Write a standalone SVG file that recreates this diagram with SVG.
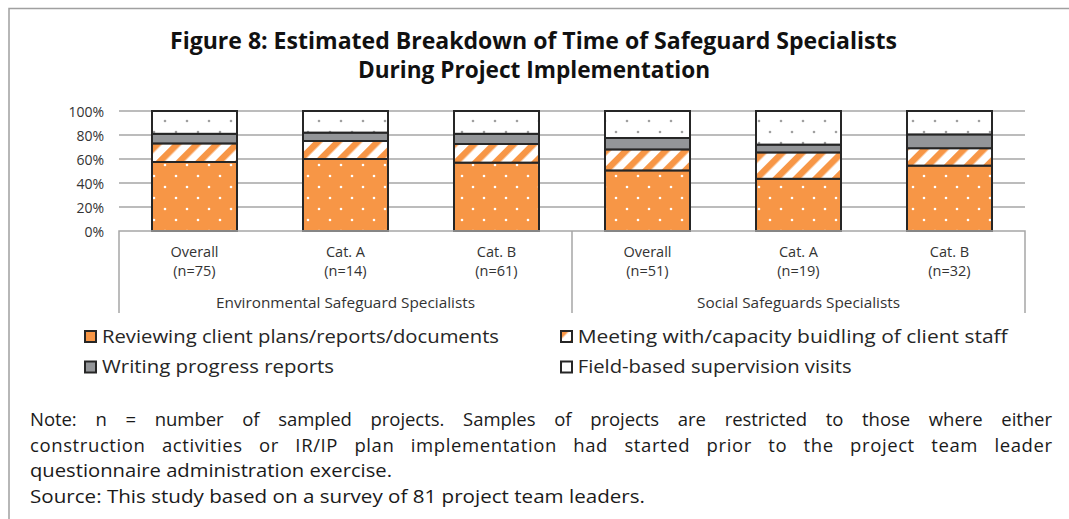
<svg xmlns="http://www.w3.org/2000/svg" width="1069" height="519" viewBox="0 0 1069 519">
<defs>
<style>
.t{font-family:"Open Sans","Noto Sans","DejaVu Sans",sans-serif;fill:#262626}
.ax{font-size:14px;text-anchor:end;fill:#333}
.cat{font-size:14.5px;text-anchor:middle;fill:#333}
.grp{font-size:14px;text-anchor:middle;fill:#333}
.leg{font-size:19px}
.note{font-size:18.5px;fill:#1a1a1a}
.title{font-size:23px;font-weight:700;text-anchor:middle;fill:#111}
.grid{stroke:#a6a6a6;stroke-width:1.5;fill:none}
.seg{stroke:#262626;stroke-width:2}
.lm{stroke:#262626;stroke-width:2}
</style>
<pattern id="orDots" width="22" height="22" patternUnits="userSpaceOnUse">
<rect width="22" height="22" fill="#F79646"/>
<circle cx="0" cy="0" r="1.3" fill="#fff"/><circle cx="22" cy="0" r="1.3" fill="#fff"/><circle cx="0" cy="22" r="1.3" fill="#fff"/><circle cx="22" cy="22" r="1.3" fill="#fff"/>
<circle cx="11" cy="11" r="1.3" fill="#fff"/>
</pattern>
<pattern id="grDots" width="22" height="22" patternUnits="userSpaceOnUse">
<rect width="22" height="22" fill="#fff"/>
<circle cx="0" cy="0" r="1.3" fill="#a0a0a0"/><circle cx="22" cy="0" r="1.3" fill="#a0a0a0"/><circle cx="0" cy="22" r="1.3" fill="#a0a0a0"/><circle cx="22" cy="22" r="1.3" fill="#a0a0a0"/>
<circle cx="11" cy="11" r="1.3" fill="#a0a0a0"/>
</pattern>
<pattern id="stripes" width="14" height="14" patternUnits="userSpaceOnUse" patternTransform="rotate(45)">
<rect width="14" height="14" fill="#fff"/>
<rect width="6.5" height="14" fill="#F79646"/>
</pattern>
</defs>

<rect width="1069" height="519" fill="#fff"/>
<polyline points="9,519 9,8.5 1069,8.5" fill="none" stroke="#a0a0a0" stroke-width="1.5"/>

<g id="title" class="t">
<text class="title t" x="533.5" y="48.5" textLength="727" lengthAdjust="spacingAndGlyphs">Figure 8: Estimated Breakdown of Time of Safeguard Specialists</text>
<text class="title t" x="534" y="78" textLength="352" lengthAdjust="spacingAndGlyphs">During Project Implementation</text>
</g>

<g id="grid">
<line class="grid" x1="119" y1="111" x2="1025" y2="111"/>
<line class="grid" x1="119" y1="135" x2="1025" y2="135"/>
<line class="grid" x1="119" y1="159" x2="1025" y2="159"/>
<line class="grid" x1="119" y1="183" x2="1025" y2="183"/>
<line class="grid" x1="119" y1="207" x2="1025" y2="207"/>
</g>

<g id="y-axis" class="t">
<text class="ax t" x="104" y="116.5">100%</text>
<text class="ax t" x="104" y="140.5">80%</text>
<text class="ax t" x="104" y="164.5">60%</text>
<text class="ax t" x="104" y="188.5">40%</text>
<text class="ax t" x="104" y="212.5">20%</text>
<text class="ax t" x="104" y="236.5">0%</text>
</g>

<g id="bar-env-overall">
<rect class="seg" x="152" y="162" width="85" height="69" fill="url(#orDots)"/>
<rect class="seg" x="152" y="143.4" width="85" height="18.6" fill="url(#stripes)"/>
<rect class="seg" x="152" y="133.8" width="85" height="9.6" fill="#939598"/>
<rect class="seg" x="152" y="111" width="85" height="22.8" fill="url(#grDots)"/>
</g>
<g id="bar-env-cata">
<rect class="seg" x="303" y="159" width="85" height="72" fill="url(#orDots)"/>
<rect class="seg" x="303" y="141" width="85" height="18" fill="url(#stripes)"/>
<rect class="seg" x="303" y="132.6" width="85" height="8.4" fill="#939598"/>
<rect class="seg" x="303" y="111" width="85" height="21.6" fill="url(#grDots)"/>
</g>
<g id="bar-env-catb">
<rect class="seg" x="454" y="162.6" width="85" height="68.4" fill="url(#orDots)"/>
<rect class="seg" x="454" y="144" width="85" height="18.6" fill="url(#stripes)"/>
<rect class="seg" x="454" y="133.8" width="85" height="10.2" fill="#939598"/>
<rect class="seg" x="454" y="111" width="85" height="22.8" fill="url(#grDots)"/>
</g>
<g id="bar-soc-overall">
<rect class="seg" x="605" y="170.4" width="85" height="60.6" fill="url(#orDots)"/>
<rect class="seg" x="605" y="149.4" width="85" height="21" fill="url(#stripes)"/>
<rect class="seg" x="605" y="138" width="85" height="11.4" fill="#939598"/>
<rect class="seg" x="605" y="111" width="85" height="27" fill="url(#grDots)"/>
</g>
<g id="bar-soc-cata">
<rect class="seg" x="756" y="178.8" width="85" height="52.2" fill="url(#orDots)"/>
<rect class="seg" x="756" y="152.4" width="85" height="26.4" fill="url(#stripes)"/>
<rect class="seg" x="756" y="144.6" width="85" height="7.8" fill="#939598"/>
<rect class="seg" x="756" y="111" width="85" height="33.6" fill="url(#grDots)"/>
</g>
<g id="bar-soc-catb">
<rect class="seg" x="907" y="165.6" width="85" height="65.4" fill="url(#orDots)"/>
<rect class="seg" x="907" y="148.2" width="85" height="17.4" fill="url(#stripes)"/>
<rect class="seg" x="907" y="134.4" width="85" height="13.8" fill="#939598"/>
<rect class="seg" x="907" y="111" width="85" height="23.4" fill="url(#grDots)"/>
</g>

<g id="x-axis">
<path class="grid" d="M119,313 V231 H1025 V313 M572,231 V313"/>
</g>

<g id="x-labels" class="t">
<text class="cat t" x="194.5" y="257">Overall</text>
<text class="cat t" x="194.5" y="275.5">(n=75)</text>
<text class="cat t" x="345.5" y="257">Cat. A</text>
<text class="cat t" x="345.5" y="275.5">(n=14)</text>
<text class="cat t" x="496.5" y="257">Cat. B</text>
<text class="cat t" x="496.5" y="275.5">(n=61)</text>
<text class="cat t" x="647.5" y="257">Overall</text>
<text class="cat t" x="647.5" y="275.5">(n=51)</text>
<text class="cat t" x="798.5" y="257">Cat. A</text>
<text class="cat t" x="798.5" y="275.5">(n=19)</text>
<text class="cat t" x="949.5" y="257">Cat. B</text>
<text class="cat t" x="949.5" y="275.5">(n=32)</text>
<text class="grp t" x="345.5" y="307.5" textLength="259" lengthAdjust="spacingAndGlyphs">Environmental Safeguard Specialists</text>
<text class="grp t" x="798.5" y="307.5" textLength="203" lengthAdjust="spacingAndGlyphs">Social Safeguards Specialists</text>
</g>

<g id="legend-reviewing">
<rect class="lm" x="85" y="331" width="11" height="11" fill="#F79646"/>
<text class="leg t" x="102" y="343" textLength="397" lengthAdjust="spacingAndGlyphs">Reviewing client plans/reports/documents</text>
</g>
<g id="legend-writing">
<rect class="lm" x="85" y="361.5" width="11" height="11" fill="#939598"/>
<text class="leg t" x="102" y="373.3" textLength="232" lengthAdjust="spacingAndGlyphs">Writing progress reports</text>
</g>
<g id="legend-meeting">
<rect class="lm" x="561" y="331" width="11" height="11" fill="url(#stripes)"/>
<text class="leg t" x="577.7" y="343" textLength="430" lengthAdjust="spacingAndGlyphs">Meeting with/capacity buidling of client staff</text>
</g>
<g id="legend-field">
<rect class="lm" x="561" y="361.5" width="11" height="11" fill="url(#grDots)"/>
<text class="leg t" x="577.7" y="373" textLength="274" lengthAdjust="spacingAndGlyphs">Field-based supervision visits</text>
</g>

<g id="note" class="t">
<text class="note t" x="30" y="426" word-spacing="14" textLength="1022" lengthAdjust="spacing">Note: n = number of sampled projects. Samples of projects are restricted to those where either</text>
<text class="note t" x="30" y="452" word-spacing="11" textLength="1022" lengthAdjust="spacing">construction activities or IR/IP plan implementation had started prior to the project team leader</text>
<text class="note t" x="30" y="477" textLength="362" lengthAdjust="spacingAndGlyphs">questionnaire administration exercise.</text>
<text class="note t" x="30" y="503" textLength="615" lengthAdjust="spacingAndGlyphs">Source: This study based on a survey of 81 project team leaders.</text>
</g>
</svg>
